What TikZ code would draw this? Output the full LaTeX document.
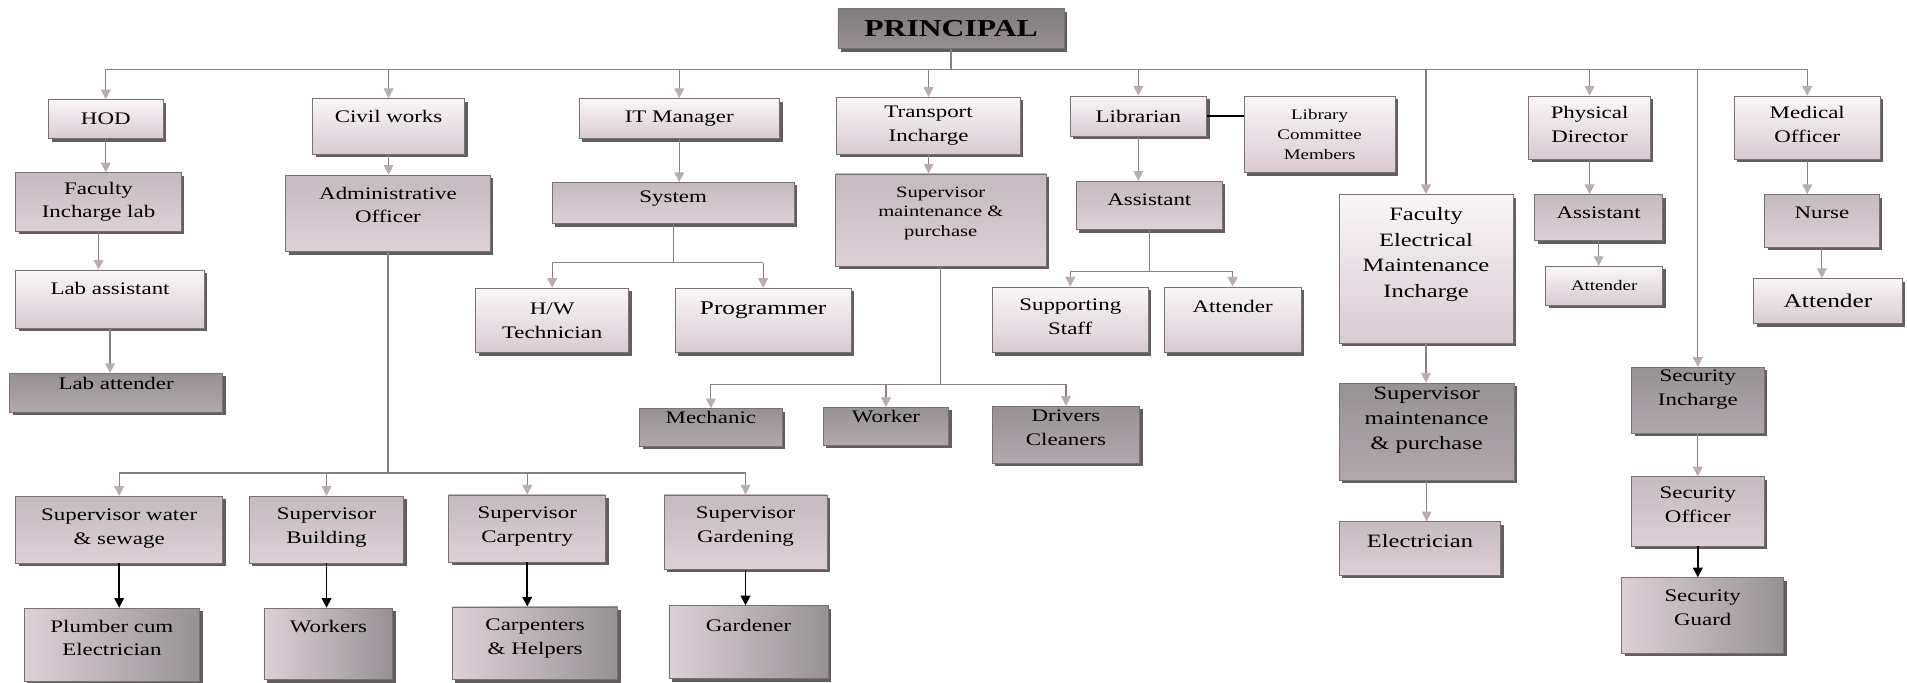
\documentclass[tikz,border=0pt]{standalone}
\usepackage{fontspec}
\setmainfont{Liberation Serif}[FakeStretch=1.3]
\usepackage{xcolor}
\usepackage{tikz}
\usetikzlibrary{positioning,arrows.meta,shadows}

\definecolor{litetop}{RGB}{250,246,248}
\definecolor{litebot}{RGB}{216,203,210}
\definecolor{midtop}{RGB}{196,186,191}
\definecolor{midbot}{RGB}{222,208,215}
\definecolor{darktop}{RGB}{150,145,148}
\definecolor{darkbot}{RGB}{178,168,173}
\definecolor{princtop}{RGB}{128,124,126}
\definecolor{princbot}{RGB}{150,142,146}
\definecolor{boxline}{RGB}{120,114,117}
\definecolor{shadowc}{RGB}{70,66,68}
\definecolor{linec}{RGB}{135,128,132}
\definecolor{tipc}{RGB}{185,172,179}

\begin{document}
\begin{tikzpicture}[x=1pt, y=-1pt,
  box/.style={draw=boxline, line width=0.6pt, inner sep=2pt, align=center,
    font=\fontsize{14.5}{19.5}\selectfont,
    drop shadow={shadow xshift=2.5pt, shadow yshift=-2.5pt, fill=shadowc, opacity=0.85}},
  lite/.style={box, top color=litetop, bottom color=litebot},
  mid/.style={box, top color=midtop, bottom color=midbot},
  dark/.style={box, top color=darktop, bottom color=darkbot},
  side/.style={box, left color=midbot, right color=darktop},
  sz/.style 2 args={minimum width=#1, minimum height=#2},
  conn/.style={draw=linec, line width=1pt},
  arr/.style={conn, -{Triangle[width=8pt,length=8pt,color=tipc]}},
  blackarr/.style={draw=black, line width=1.2pt, -{Triangle[width=8pt,length=8pt]}}]

\path[use as bounding box, fill=white] (0,0) rectangle (1568,561);

\node[dark, sz={186}{33}, top color=princtop, bottom color=princbot, font=\fontsize{20}{24}\selectfont\bfseries] (principal) at (782,23.5) {PRINCIPAL};

\node[lite, sz={94}{32}] (hod) at (87,98) {HOD};
\node[lite, sz={125}{46}, text depth=16pt] (civil) at (319.5,104) {Civil works};
\node[lite, sz={165}{33}] (it_manager) at (558.5,97.5) {IT Manager};
\node[lite, sz={151}{47}] (transport) at (763.5,103.5) {Transport\\Incharge};
\node[lite, sz={112}{33}] (librarian) at (936,95.5) {Librarian};
\node[lite, sz={124}{63}, font=\fontsize{12}{16.5}\selectfont] (lib_committee) at (1085,110.5) {Library\\Committee\\Members};
\node[lite, sz={143}{122}, text depth=27pt, font=\fontsize{15.5}{21}\selectfont] (fac_elec) at (1172.5,221) {Faculty\\Electrical\\Maintenance\\Incharge};
\node[lite, sz={100}{52}, text depth=5pt] (phy_dir) at (1307,105) {Physical\\Director};
\node[lite, sz={120}{52}, text depth=5pt] (med_officer) at (1486,105) {Medical\\Officer};

\node[mid, sz={136}{48}] (fac_lab) at (81,166) {Faculty\\Incharge lab};
\node[lite, sz={155}{48}, text depth=18pt] (lab_asst) at (90.5,246) {Lab assistant};
\node[dark, sz={175}{32}, text depth=16pt] (lab_att) at (95.5,323) {Lab attender};

\node[mid, sz={168}{63}, text depth=14pt] (admin) at (319,175.5) {Administrative\\Officer};
\node[mid, sz={170}{55}, text depth=5pt] (sup_water) at (98,435.5) {Supervisor water\\\& sewage};
\node[mid, sz={127}{55}, text depth=7pt] (sup_build) at (268.5,435.5) {Supervisor\\Building};
\node[mid, sz={129}{55}, text depth=6pt] (sup_carp) at (433.5,434.5) {Supervisor\\Carpentry};
\node[mid, sz={134}{61}, text depth=12pt] (sup_garden) at (613,437.5) {Supervisor\\Gardening};
\node[side, sz={144}{60}, text depth=11pt] (plumber) at (92,530) {Plumber cum\\Electrician};
\node[side, sz={106}{59}, text depth=29pt] (workers) at (270,529.5) {Workers};
\node[side, sz={136}{60}, text depth=11pt] (carpenters) at (440,529) {Carpenters\\\& Helpers};
\node[side, sz={131}{60}, text depth=28pt] (gardener) at (615.5,528) {Gardener};

\node[mid, sz={199}{34}, text depth=10pt] (system) at (553.5,167) {System};
\node[lite, sz={126}{53}] (hw_tech) at (454,263.5) {H/W\\Technician};
\node[lite, sz={145}{53}, text depth=20pt, font=\fontsize{16}{19.5}\selectfont] (programmer) at (627.5,263.5) {Programmer};

\node[mid, sz={173}{76}, text depth=14pt, font=\fontsize{13}{16}\selectfont] (sup_transport) at (773.5,181) {Supervisor\\maintenance \&\\purchase};
\node[dark, sz={117}{31}, text depth=16pt] (mechanic) at (584.5,351.5) {Mechanic};
\node[dark, sz={103}{31}, text depth=16pt] (worker) at (728.5,350.5) {Worker};
\node[dark, sz={121}{47}, text depth=12pt] (drivers) at (876.5,357.5) {Drivers\\Cleaners};

\node[mid, sz={120}{40}, text depth=10pt] (lib_asst) at (945,169) {Assistant};
\node[lite, sz={128}{54}, text depth=5pt] (sup_staff) at (880,263) {Supporting\\Staff};
\node[lite, sz={113}{54}, text depth=22pt] (lib_att) at (1013.5,263) {Attender};

\node[dark, sz={144}{80}, text depth=22pt, font=\fontsize{15.5}{20.5}\selectfont] (sup_elec) at (1173,355) {Supervisor\\maintenance\\\& purchase};
\node[mid, sz={133}{44}, text depth=12pt, font=\fontsize{15.5}{20}\selectfont] (electrician) at (1167.5,451) {Electrician};

\node[mid, sz={105}{38}, text depth=8pt] (pd_asst) at (1314.5,179) {Assistant};
\node[lite, sz={96}{32}, font=\fontsize{12}{15}\selectfont] (pd_att) at (1319,235) {Attender};

\node[mid, sz={94}{43}, text depth=13pt] (nurse) at (1498,181.5) {Nurse};
\node[lite, sz={122}{37}, font=\fontsize{16}{19}\selectfont] (med_att) at (1503,247.5) {Attender};

\node[dark, sz={109}{54}, text depth=20pt] (sec_incharge) at (1396,329) {Security\\Incharge};
\node[mid, sz={109}{57}, text depth=11pt] (sec_officer) at (1396,420.5) {Security\\Officer};
\node[side, sz={133}{62}, text depth=13pt] (sec_guard) at (1400,506) {Security\\Guard};

\coordinate (bus_left) at (87,57);
\coordinate (bus_right) at (1486,57);
\draw[conn] (principal.south) -- (principal.south |- bus_left);
\draw[conn] (bus_left) -- (bus_right);
\foreach \n in {hod, civil, it_manager, transport, librarian, fac_elec, phy_dir, sec_incharge, med_officer}
  \draw[arr] (\n.north |- bus_left) -- (\n.north);

\draw[black, line width=1.2pt] (librarian.east) -- (librarian.east -| lib_committee.west);

\foreach \a/\b in {hod/fac_lab, fac_lab/lab_asst, lab_asst/lab_att, civil/admin, it_manager/system,
    transport/sup_transport, librarian/lib_asst, fac_elec/sup_elec, sup_elec/electrician,
    phy_dir/pd_asst, pd_asst/pd_att, med_officer/nurse, nurse/med_att, sec_incharge/sec_officer}
  \draw[arr] (\a.south) -- (\a.south |- \b.north);

\foreach \a/\b in {sup_water/plumber, sup_build/workers, sup_carp/carpenters, sup_garden/gardener, sec_officer/sec_guard}
  \draw[blackarr] (\a.south) -- (\a.south |- \b.north);

\coordinate (civil_bus) at (319,389);
\draw[conn] (admin.south) -- (admin.south |- civil_bus);
\draw[conn] (sup_water.north |- civil_bus) -- (sup_garden.north |- civil_bus);
\foreach \n in {sup_water, sup_build, sup_carp, sup_garden}
  \draw[arr] (\n.north |- civil_bus) -- (\n.north);

\coordinate (it_bus) at (553.5,216);
\draw[conn] (system.south) -- (system.south |- it_bus);
\draw[conn] (hw_tech.north |- it_bus) -- (programmer.north |- it_bus);
\foreach \n in {hw_tech, programmer}
  \draw[arr] (\n.north |- it_bus) -- (\n.north);

\coordinate (tr_bus) at (773.5,316);
\draw[conn] (sup_transport.south) -- (sup_transport.south |- tr_bus);
\draw[conn] (mechanic.north |- tr_bus) -- (drivers.north |- tr_bus);
\foreach \n in {mechanic, worker, drivers}
  \draw[arr] (\n.north |- tr_bus) -- (\n.north);

\coordinate (lib_bus) at (945,223);
\draw[conn] (lib_asst.south) -- (lib_asst.south |- lib_bus);
\draw[conn] (sup_staff.north |- lib_bus) -- (lib_att.north |- lib_bus);
\foreach \n in {sup_staff, lib_att}
  \draw[arr] (\n.north |- lib_bus) -- (\n.north);

\end{tikzpicture}
\end{document}
